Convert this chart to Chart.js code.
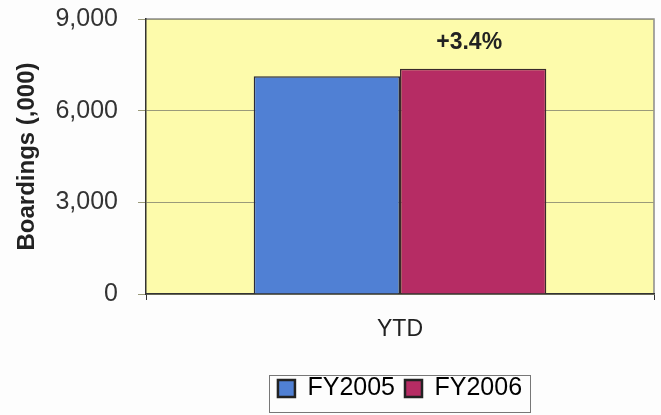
<!DOCTYPE html>
<html>
<head>
<meta charset="utf-8">
<script src="https://cdn.jsdelivr.net/npm/chart.js@4/dist/chart.umd.min.js"></script>
<style>
  html, body { margin: 0; padding: 0; background: #fdfdfd; }
  #wrap { width: 661px; height: 415px; position: relative; }
</style>
</head>
<body>
<div id="wrap"><canvas id="myChart" width="661" height="415"></canvas></div>
<script>
const categories = ['YTD'];
const fy2005 = [7130];
const fy2006 = [7370];
const changeLabel = '+3.4%';
const yTitle = 'Boardings (,000)';
const yTicks = [0, 3000, 6000, 9000];

const FONT = '"Liberation Sans", Arial, sans-serif';
const PLOT_TOP = 19;
const PLOT_BOTTOM = 294;

// yellow plot area, legend frame, axis title and the percent label
const plotBg = {
  id: 'plotBg',
  afterLayout(chart) {
    // center the legend under the plot area, like the original
    const lg = chart.legend, a = chart.chartArea;
    lg.left = a.left;
    lg.right = a.right;
    lg.width = a.right - a.left;
  },
  beforeDraw(chart) {
    const ctx = chart.ctx, a = chart.chartArea;
    ctx.save();
    ctx.fillStyle = '#fdfbab';
    ctx.fillRect(a.left, a.top, a.right - a.left, a.bottom - a.top);
    ctx.strokeStyle = '#8a8a8a';
    ctx.lineWidth = 1.5;
    ctx.beginPath();
    ctx.moveTo(a.left, a.top);
    ctx.lineTo(a.right, a.top);
    ctx.lineTo(a.right, a.bottom);
    ctx.stroke();
    ctx.restore();
  },
  afterDraw(chart) {
    const ctx = chart.ctx, a = chart.chartArea;
    const boxes = chart.legend.legendHitBoxes;
    ctx.save();
    if (boxes && boxes.length) {
      const l = Math.min(...boxes.map(b => b.left)) - 9;
      const r = Math.max(...boxes.map(b => b.left + b.width)) + 8;
      ctx.strokeStyle = '#777';
      ctx.lineWidth = 1;
      ctx.strokeRect(Math.round(l) + 0.5, 375.5, Math.round(r - l), 37);
    }
    // y axis title, centred on the plot area
    ctx.save();
    ctx.translate(27, (a.top + a.bottom) / 2);
    ctx.rotate(-Math.PI / 2);
    ctx.fillStyle = '#222';
    ctx.font = 'bold 24px ' + FONT;
    ctx.textAlign = 'center';
    ctx.textBaseline = 'middle';
    ctx.fillText(yTitle, 0, 0);
    ctx.restore();

    const bar = chart.getDatasetMeta(1).data[0];
    ctx.fillStyle = '#222';
    ctx.font = 'bold 23px ' + FONT;
    ctx.textAlign = 'center';
    ctx.textBaseline = 'middle';
    ctx.fillText(changeLabel, bar.x - 4, bar.y - 26);
    ctx.restore();
  }
};

const config = {
  type: 'bar',
  data: {
    labels: categories,
    datasets: [
      {
        label: 'FY2005',
        data: fy2005,
        backgroundColor: '#5080d4',
        borderColor: '#2a2a3a',
        borderWidth: 1.5,
        borderSkipped: 'bottom'
      },
      {
        label: 'FY2006',
        data: fy2006,
        backgroundColor: '#b62c64',
        borderColor: '#3a2a2a',
        borderWidth: 1.5,
        borderSkipped: 'bottom'
      }
    ]
  },
  options: {
    responsive: false,
    animation: false,
    layout: { padding: { top: 4, right: 7, left: 8, bottom: 4 } },
    datasets: { bar: { categoryPercentage: 0.576, barPercentage: 1 } },
    plugins: {
      title: { display: false },
      tooltip: { enabled: false },
      legend: {
        position: 'bottom',
        labels: {
          color: '#222',
          font: { family: FONT, size: 25 },
          boxWidth: 17,
          boxHeight: 17,
          padding: 10,
          generateLabels(chart) {
            return chart.data.datasets.map((ds, i) => ({
              text: ds.label,
              fillStyle: ds.backgroundColor,
              strokeStyle: '#222',
              lineWidth: 2.5,
              datasetIndex: i
            }));
          }
        }
      }
    },
    scales: {
      x: {
        grid: { display: true, offset: true, drawOnChartArea: false, color: '#333', tickLength: 6 },
        border: { display: true, color: '#333', width: 1.5 },
        ticks: {
          color: '#222',
          padding: 16,
          font: { family: FONT, size: 23 }
        },
        afterFit(scale) {
          const c = scale.chart;
          const lh = c.legend ? c.legend.height : 45;
          scale.height = c.height - 4 - lh - PLOT_BOTTOM;
        }
      },
      y: {
        min: 0,
        max: 9000,
        afterBuildTicks(scale) { scale.ticks = yTicks.map(v => ({ value: v })); },
        grid: { color: '#9a9a7a', lineWidth: 1, tickLength: 8, drawTicks: true },
        border: { display: true, color: '#333', width: 1.5 },
        ticks: {
          color: '#333',
          padding: 20,
          font: { family: FONT, size: 25 },
          callback: v => v.toLocaleString('en-US')
        },
        afterFit(scale) {
          scale.width = 138;
          scale.paddingTop = PLOT_TOP;
        }
      }
    }
  },
  plugins: [plotBg]
};

const myChart = new Chart(document.getElementById('myChart'), config);
</script>
</body>
</html>
